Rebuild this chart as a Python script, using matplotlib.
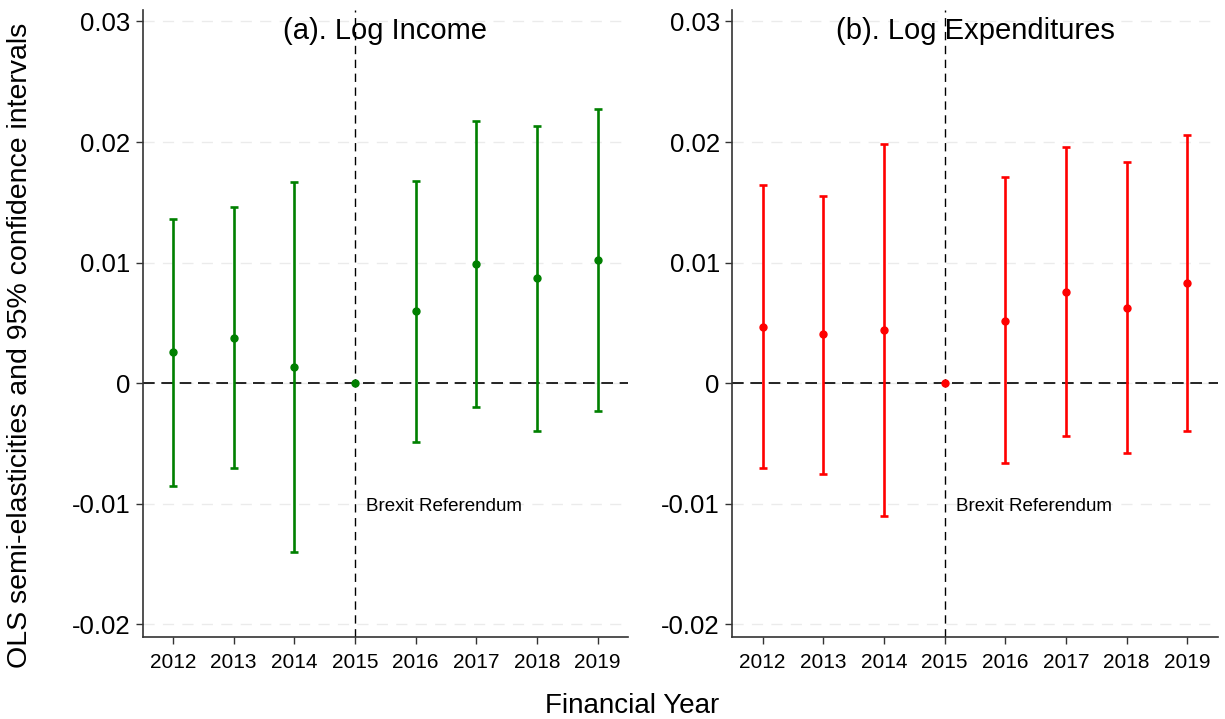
import matplotlib
matplotlib.use("Agg")
import matplotlib.pyplot as plt
import numpy as np

plt.rcParams['font.family'] = ['Liberation Sans', 'DejaVu Sans']

years = [2012, 2013, 2014, 2015, 2016, 2017, 2018, 2019]

income_est = [0.00257, 0.00378, 0.00135, 0.0, 0.00597, 0.00992, 0.00871, 0.0102]
income_lo = [-0.00852, -0.00705, -0.01399, 0.0, -0.00484, -0.00194, -0.00398, -0.00227]
income_hi = [0.01365, 0.01464, 0.01669, 0.0, 0.01675, 0.02178, 0.02134, 0.02275]

exp_est = [0.00469, 0.00406, 0.00442, 0.0, 0.00519, 0.0076, 0.00627, 0.00832]
exp_lo = [-0.00705, -0.0075, -0.01098, 0.0, -0.00663, -0.00434, -0.00578, -0.00398]
exp_hi = [0.01647, 0.01556, 0.01982, 0.0, 0.01708, 0.01959, 0.01835, 0.02056]

yticks = [0.03, 0.02, 0.01, 0, -0.01, -0.02]
ytick_labels = ["0.03", "0.02", "0.01", "0", "-0.01", "-0.02"]

titles = ["(a). Log Income", "(b). Log Expenditures"]
colors = ["#008000", "#ff0000"]
ref_year = 2015
ref_label = "Brexit Referendum"
xlabel = "Financial Year"
ylabel = "OLS semi-elasticities and 95% confidence intervals"

fig = plt.figure(figsize=(12.25, 7.19), dpi=100)
positions = [[0.1165, 0.1145, 0.3962, 0.8716], [0.5978, 0.1145, 0.3963, 0.8716]]
series = [(income_est, income_lo, income_hi), (exp_est, exp_lo, exp_hi)]

for i in range(2):
    ax = fig.add_axes(positions[i])
    est, lo, hi = [np.array(s) for s in series[i]]
    x = np.array(years)
    mask = (hi - lo) > 0
    for yv in yticks:
        ax.axhline(yv, color="#ebebeb", lw=1.0, dashes=(8, 6), zorder=0)
    ax.axhline(0, color="black", lw=1.2, dashes=(7, 4), zorder=1)
    ax.axvline(ref_year, color="black", lw=1.0, dashes=(6, 4), zorder=1)
    ax.errorbar(x[mask], est[mask], yerr=[est[mask] - lo[mask], hi[mask] - est[mask]],
                fmt='none', ecolor=colors[i], elinewidth=1.9, capsize=3, capthick=1.9, zorder=3)
    ax.plot(x, est, 'o', color=colors[i], ms=5, zorder=4)
    ax.set_xlim(2011.5, 2019.5)
    ax.set_ylim(-0.02101, 0.03095)
    ax.set_xticks(years)
    ax.set_xticklabels([str(y) for y in years], fontsize=15)
    ax.set_yticks(yticks)
    ax.set_yticklabels(ytick_labels, fontsize=18.5)
    ax.tick_params(axis='both', direction='out', length=5, width=1, color="#333333")
    ax.tick_params(axis='x', pad=6.5)
    ax.tick_params(axis='y', pad=4)
    for s in ['top', 'right']:
        ax.spines[s].set_visible(False)
    for s in ['left', 'bottom']:
        ax.spines[s].set_color("#333333")
        ax.spines[s].set_linewidth(1.2)
    ax.text(0.5, 0.966, titles[i], transform=ax.transAxes, ha='center', va='center', fontsize=21)
    ax.text(2015.18, -0.0102, ref_label, ha='left', va='center', fontsize=13.5)
    ax.set_facecolor('white')

fig.text(0.5163, 0.018, xlabel, ha='center', va='center', fontsize=20)
fig.text(0.0165, 0.519, ylabel, ha='center', va='center', rotation=90, fontsize=20.5)

fig.savefig("out.png", dpi=100, facecolor='white')
